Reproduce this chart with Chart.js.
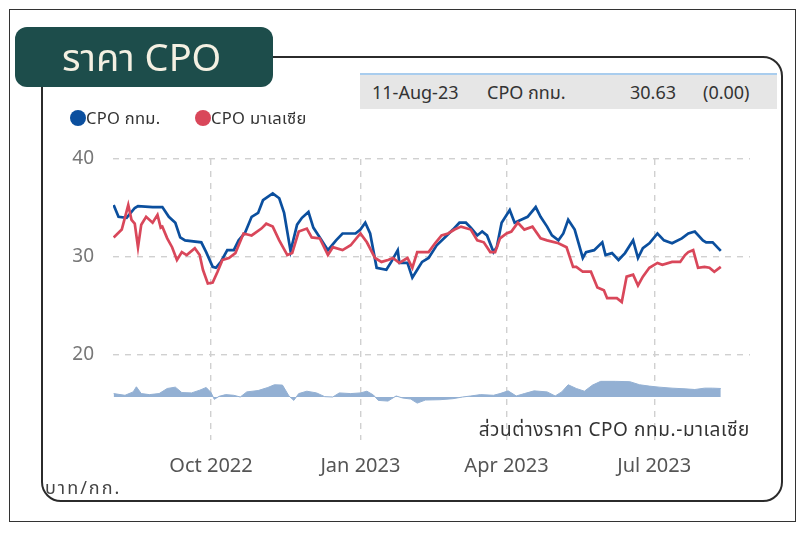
<!doctype html>
<html>
  <head>
    <title>ราคา CPO</title>
    <script src="https://cdn.jsdelivr.net/npm/chart.js@4.4.0/dist/chart.umd.min.js"></script>
    <style>
      body { margin: 0; background: #fff; font-family: "Noto Sans", "Open Sans", "Noto Sans Thai", sans-serif; color: #333; }
      #wrap { position: relative; width: 805px; height: 533px; overflow: hidden; }
      #outer { position: absolute; left: 9px; top: 9px; width: 785px; height: 511px; border: 1px solid #333; }
      #frame { position: absolute; left: 41px; top: 56px; width: 738px; height: 442px; border: 2px solid #2b2b2b; border-radius: 20px; }
      #badge { position: absolute; left: 15px; top: 27px; width: 258px; height: 60px; background: #1d4d4b; border-radius: 12px; }
      #badge span { position: absolute; left: 47px; top: 3px; font-size: 38px; color: #f4f0e2; white-space: nowrap; }
      #info { position: absolute; left: 360px; top: 73px; width: 417px; height: 34px; background: #e6e6e6; border-top: 2px solid #a9cdee; font-size: 18px; }
      #info span { position: absolute; top: 5px; white-space: nowrap; }
      #legend { position: absolute; left: 70px; top: 106px; font-size: 16.5px; white-space: nowrap; letter-spacing: 0.3px; }
      .dot { display: inline-block; width: 16px; height: 16px; border-radius: 50%; vertical-align: -2px; }
      #caption { position: absolute; right: 55px; top: 416px; font-size: 19px; letter-spacing: 0.6px; white-space: nowrap; }
      #unit { position: absolute; left: 45px; top: 475px; font-size: 18px; letter-spacing: 2px; color: #444; white-space: nowrap; }
      canvas { position: absolute; left: 0; top: 0; }
    </style>
  </head>
  <body>
    <div id="wrap">
      <div id="outer"></div>
      <canvas id="cpo" width="805" height="533"></canvas>
      <div id="frame"></div>
      <div id="badge"><span>ราคา CPO</span></div>
      <div id="info">
        <span style="left: 12px;">11-Aug-23</span>
        <span style="left: 127px;">CPO กทม.</span>
        <span style="left: 270px;">30.63</span>
        <span style="left: 343px;">(0.00)</span>
      </div>
      <div id="legend">
        <span class="dot" style="background: #0b4f9e;"></span>CPO กทม.
        <span class="dot" style="background: #d9475a; margin-left: 30px;"></span>CPO มาเลเซีย
      </div>
      <div id="caption">ส่วนต่างราคา CPO กทม.-มาเลเซีย</div>
      <div id="unit">บาท/กก.</div>
    </div>
  <script>
    const blueDates = ['2022-08-02','2022-08-05','2022-08-10','2022-08-15','2022-08-17','2022-08-26','2022-09-01','2022-09-05','2022-09-09','2022-09-12',
      '2022-09-15','2022-09-25','2022-09-28','2022-10-02','2022-10-04','2022-10-07','2022-10-11','2022-10-15','2022-10-18','2022-10-22',
      '2022-10-26','2022-10-30','2022-11-02','2022-11-08','2022-11-12','2022-11-15','2022-11-19','2022-11-23','2022-11-26','2022-11-30',
      '2022-12-03','2022-12-07','2022-12-12','2022-12-17','2022-12-21','2022-12-29','2023-01-01','2023-01-04','2023-01-07','2023-01-11',
      '2023-01-17','2023-01-20','2023-01-24','2023-01-25','2023-01-30','2023-02-02','2023-02-05','2023-02-08','2023-02-12','2023-02-17',
      '2023-02-22','2023-02-27','2023-03-03','2023-03-07','2023-03-10','2023-03-14','2023-03-17','2023-03-20','2023-03-24','2023-03-26',
      '2023-03-29','2023-04-03','2023-04-06','2023-04-10','2023-04-14','2023-04-19','2023-04-22','2023-04-26','2023-04-29','2023-05-03',
      '2023-05-06','2023-05-09','2023-05-13','2023-05-18','2023-05-20','2023-05-25','2023-05-30','2023-06-01','2023-06-05','2023-06-09',
      '2023-06-13','2023-06-18','2023-06-21','2023-06-24','2023-06-28','2023-07-03','2023-07-07','2023-07-12','2023-07-18','2023-07-22',
      '2023-07-26','2023-07-31','2023-08-02','2023-08-06','2023-08-11'];
    const blueValues = [35.3, 34.1, 34.0, 35.0, 35.2, 35.1, 35.1, 34.1, 33.5, 32.0,
      31.7, 31.5, 30.5, 29.0, 28.9, 29.5, 30.7, 30.7, 31.7, 32.5,
      34.1, 34.5, 35.8, 36.5, 36.0, 34.5, 30.6, 33.3, 34.0, 34.6,
      33.0, 32.0, 30.7, 31.7, 32.4, 32.4, 32.8, 33.5, 32.4, 28.9,
      28.7, 29.5, 30.7, 29.4, 29.4, 27.9, 28.7, 29.5, 29.9, 31.2,
      32.0, 32.8, 33.5, 33.5, 33.0, 32.2, 32.6, 32.2, 30.5, 31.0,
      33.5, 34.8, 33.5, 33.8, 34.1, 35.1, 34.1, 33.1, 32.2, 31.7,
      32.4, 33.8, 32.8, 29.9, 30.5, 30.7, 31.5, 30.2, 30.4, 29.7,
      30.4, 31.7, 29.9, 30.9, 31.4, 32.4, 31.7, 31.4, 31.9, 32.4,
      32.6, 31.7, 31.5, 31.5, 30.63];

    const redDates = ['2022-08-02','2022-08-07','2022-08-11','2022-08-13','2022-08-15','2022-08-17','2022-08-19','2022-08-22','2022-08-26','2022-08-29',
      '2022-08-31','2022-09-01','2022-09-04','2022-09-07','2022-09-10','2022-09-13','2022-09-16','2022-09-21','2022-09-24','2022-09-26',
      '2022-09-29','2022-10-02','2022-10-05','2022-10-08','2022-10-12','2022-10-16','2022-10-21','2022-10-26','2022-11-01','2022-11-04',
      '2022-11-08','2022-11-12','2022-11-17','2022-11-20','2022-11-24','2022-11-29','2022-12-02','2022-12-07','2022-12-12','2022-12-15',
      '2022-12-21','2022-12-26','2023-01-01','2023-01-05','2023-01-10','2023-01-14','2023-01-18','2023-01-21','2023-01-25','2023-01-30',
      '2023-02-02','2023-02-05','2023-02-08','2023-02-12','2023-02-16','2023-02-20','2023-02-24','2023-02-28','2023-03-04','2023-03-10',
      '2023-03-14','2023-03-18','2023-03-22','2023-03-25','2023-03-28','2023-04-01','2023-04-04','2023-04-08','2023-04-12','2023-04-17',
      '2023-04-22','2023-04-26','2023-05-03','2023-05-08','2023-05-12','2023-05-14','2023-05-18','2023-05-23','2023-05-27','2023-05-31',
      '2023-06-02','2023-06-08','2023-06-11','2023-06-14','2023-06-18','2023-06-21','2023-06-24','2023-06-28','2023-07-03','2023-07-06',
      '2023-07-12','2023-07-17','2023-07-20','2023-07-22','2023-07-25','2023-07-28','2023-08-01','2023-08-04','2023-08-07','2023-08-11'];
    const redValues = [32.0, 32.8, 35.3, 33.8, 33.4, 31.0, 33.3, 34.1, 33.5, 34.3,
      33.0, 33.1, 31.9, 31.0, 29.7, 30.5, 30.2, 30.9, 30.2, 28.7,
      27.3, 27.4, 28.5, 29.7, 29.9, 30.4, 32.4, 32.2, 32.9, 33.4,
      33.1, 31.7, 30.2, 30.4, 32.6, 32.9, 32.0, 31.9, 30.2, 31.0,
      30.7, 31.2, 32.4, 31.5, 29.9, 29.5, 29.7, 29.9, 29.4, 29.9,
      28.9, 30.5, 30.5, 30.5, 31.4, 32.2, 32.4, 32.8, 33.1, 32.8,
      31.7, 31.5, 30.5, 30.5, 31.9, 32.4, 32.6, 33.5, 32.8, 33.1,
      31.9, 31.7, 31.4, 31.0, 29.0, 29.0, 28.5, 28.5, 26.9, 26.6,
      25.8, 25.8, 25.4, 28.0, 28.2, 27.1, 28.0, 28.9, 29.4, 29.2,
      29.5, 29.5, 30.2, 30.5, 30.7, 28.9, 29.0, 28.9, 28.5, 29.0];

    const spreadDates = ['2022-08-02','2022-08-09','2022-08-14','2022-08-16','2022-08-19','2022-08-24','2022-08-30','2022-09-04','2022-09-09','2022-09-13',
      '2022-09-19','2022-09-24','2022-09-28','2022-10-01','2022-10-03','2022-10-06','2022-10-10','2022-10-15','2022-10-19','2022-10-23',
      '2022-10-30','2022-11-05','2022-11-09','2022-11-14','2022-11-18','2022-11-21','2022-11-24','2022-11-29','2022-12-05','2022-12-10',
      '2022-12-15','2022-12-19','2022-12-26','2023-01-01','2023-01-05','2023-01-09','2023-01-12','2023-01-18','2023-01-23','2023-01-27',
      '2023-02-01','2023-02-05','2023-02-10','2023-02-19','2023-02-27','2023-03-05','2023-03-10','2023-03-16','2023-03-24','2023-03-28',
      '2023-04-02','2023-04-07','2023-04-12','2023-04-18','2023-04-26','2023-05-01','2023-05-05','2023-05-09','2023-05-14','2023-05-19',
      '2023-05-24','2023-05-29','2023-06-07','2023-06-16','2023-06-22','2023-06-28','2023-07-04','2023-07-12','2023-07-20','2023-07-26',
      '2023-08-01','2023-08-06','2023-08-11'];
    const spreadValues = [1.0, 0.5, 1.5, 3.0, 1.0, 0.7, 1.0, 2.5, 2.9, 1.3,
      1.2, 2.0, 2.8, 1.3, -0.7, 0.2, 0.7, 0.5, 0.0, 1.5,
      1.9, 2.8, 3.6, 3.5, 0.3, -1.0, 1.0, 1.7, 1.2, 0.1,
      0.0, 1.2, 1.0, 1.2, 1.7, 0.6, -1.0, -1.2, 0.3, -0.3,
      -0.6, -1.8, -0.9, -0.8, -0.5, 0.0, 0.3, 0.7, 0.5, 1.0,
      1.8, 0.3, 1.0, 1.8, 1.5, 0.3, 1.5, 3.6, 2.5, 1.7,
      3.5, 4.6, 4.6, 4.5, 3.6, 3.2, 2.9, 2.6, 2.4, 2.2,
      2.6, 2.6, 2.5];

    const tickDates = ['2022-10-01', '2023-01-01', '2023-04-01', '2023-07-01'];
    const tickLabels = ['Oct 2022', 'Jan 2023', 'Apr 2023', 'Jul 2023'];
    const yTicks = [20, 30, 40];

    // days since 1 Aug 2022, used as the x value
    const dayOf = (s) => (Date.UTC(+s.slice(0, 4), +s.slice(5, 7) - 1, +s.slice(8, 10)) - Date.UTC(2022, 7, 1)) / 86400000;
    const toPoints = (dates, values) => dates.map((d, i) => ({ x: dayOf(d), y: values[i] }));

    const gridStyle = { color: '#d0d0d0', lineWidth: 1.4, drawTicks: false };
    const borderStyle = { display: false, dash: [6, 6] };

    new Chart(document.getElementById('cpo').getContext('2d'), {
      type: 'line',
      data: {
        datasets: [{
          label: 'CPO มาเลเซีย',
          data: toPoints(redDates, redValues),
          borderColor: '#d9475a',
          borderWidth: 2.7,
          pointRadius: 0,
          yAxisID: 'y',
          order: 0
        }, {
          label: 'CPO กทม.',
          data: toPoints(blueDates, blueValues),
          borderColor: '#0b4f9e',
          borderWidth: 2.7,
          pointRadius: 0,
          yAxisID: 'y',
          order: 1
        }, {
          label: 'ส่วนต่างราคา CPO กทม.-มาเลเซีย',
          data: toPoints(spreadDates, spreadValues),
          borderColor: '#93b0d3',
          backgroundColor: '#93b0d3',
          borderWidth: 1,
          pointRadius: 0,
          fill: 'origin',
          yAxisID: 'y2',
          order: 2
        }]
      },
      options: {
        responsive: false,
        animation: false,
        layout: { padding: { top: 159, right: 55, left: 0, bottom: 0 } },
        plugins: { legend: { display: false }, tooltip: { enabled: false } },
        scales: {
          x: {
            type: 'linear',
            min: 0.6,
            max: 393,
            afterBuildTicks: (s) => { s.ticks = tickDates.map((d) => ({ value: dayOf(d) })); },
            afterFit: (s) => { s.height = 93; },
            ticks: {
              callback: (v, i) => tickLabels[i],
              font: { family: '"Noto Sans", "Open Sans", sans-serif', size: 20 },
              color: '#555',
              padding: 14,
              maxRotation: 0,
              autoSkip: false
            },
            grid: gridStyle,
            border: borderStyle
          },
          y: {
            min: 11.33,
            max: 40,
            afterBuildTicks: (s) => { s.ticks = yTicks.map((v) => ({ value: v })); },
            afterFit: (s) => { s.width = 113; },
            ticks: {
              font: { family: '"Noto Sans", "Open Sans", sans-serif', size: 19 },
              color: '#777',
              padding: 19
            },
            grid: gridStyle,
            border: borderStyle
          },
          y2: {
            display: false,
            min: -12.65,
            max: 70
          }
        }
      }
    });
  </script>
  </body>
</html>
